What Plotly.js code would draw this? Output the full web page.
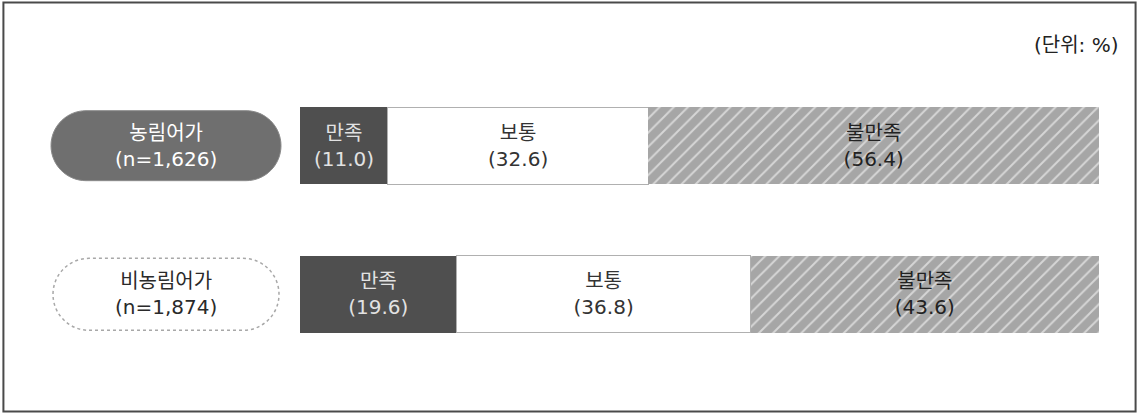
<!DOCTYPE html>
<html>
<head>
<meta charset="utf-8">
<script src="https://cdn.plot.ly/plotly-3.0.1.min.js"></script>
<style>html,body{margin:0;padding:0;background:#fff;}#chart{width:1139px;height:414px;}</style>
</head>
<body>
<div id="chart"></div>
<script>
// ---- data ----
const groups = ["농림어가", "비농림어가"];
const groupN = ["1,626", "1,874"];
const seriesNames = ["만족", "보통", "불만족"];
const satisfied = [11.0, 19.6];
const neutral = [32.6, 36.8];
const dissatisfied = [56.4, 43.6];
const unitLabel = "(단위: %)";

const FONT = "DejaVu Sans, Noto Sans CJK KR, sans-serif";
const values = [satisfied, neutral, dissatisfied];
const fills = ["#4f4f4f", "#ffffff", "#a6a6a6"];
const textColors = ["#e2e2e2", "#333333", "#222222"];
const lineColors = ["#4f4f4f", "#b0b0b0", "#a6a6a6"];

const traces = seriesNames.map((name, i) => ({
  type: "bar",
  orientation: "h",
  name: name,
  y: groups,
  x: values[i],
  width: 0.52,
  text: values[i].map(v => name + "<br>(" + v.toFixed(1) + ")"),
  textposition: "inside",
  insidetextanchor: "middle",
  textangle: 0,
  constraintext: "none",
  textfont: {family: FONT, size: 20, color: textColors[i]},
  marker: Object.assign({
    color: fills[i],
    line: {color: lineColors[i], width: i === 1 ? 1 : 0}
  }, i === 2 ? {pattern: {shape: "/", fgcolor: "#d6d6d6", bgcolor: "#a6a6a6", size: 10, solidity: 0.2}} : {}),
  hoverinfo: "skip"
}));

function pillPath(w, h) {
  const r = h / 2, s = w / 2 - r, k = 0.5523 * r;
  return `M ${-s},${-r} L ${s},${-r} C ${s + k},${-r} ${s + r},${-k} ${s + r},0 ` +
         `C ${s + r},${k} ${s + k},${r} ${s},${r} L ${-s},${r} ` +
         `C ${-s - k},${r} ${-s - r},${k} ${-s - r},0 C ${-s - r},${-k} ${-s - k},${-r} ${-s},${-r} Z`;
}

const pillX = 166 / 1139;
const shapes = [
  {type: "rect", xref: "paper", yref: "paper", x0: 0.003, x1: 0.997, y0: 0.006, y1: 0.994,
   line: {color: "#4a4a4a", width: 2}, fillcolor: "rgba(0,0,0,0)", layer: "above"},
  {type: "path", xref: "paper", yref: "y", xsizemode: "pixel", ysizemode: "pixel",
   xanchor: pillX, yanchor: groups[0], path: pillPath(230, 70),
   fillcolor: "#6f6f6f", line: {color: "#8a8a8a", width: 1}, layer: "below"},
  {type: "path", xref: "paper", yref: "y", xsizemode: "pixel", ysizemode: "pixel",
   xanchor: pillX, yanchor: groups[1], path: pillPath(226, 72),
   fillcolor: "#ffffff", line: {color: "#a8a8a8", width: 1.5, dash: "dot"}, layer: "below"}
];

const annotations = groups.map((g, i) => ({
  xref: "paper", yref: "y", x: pillX, y: g,
  text: g + "<br>(n=" + groupN[i] + ")",
  showarrow: false, xanchor: "center", yanchor: "middle",
  font: {family: FONT, size: 20, color: i === 0 ? "#ffffff" : "#2a2a2a"}
}));
annotations.push({
  xref: "paper", yref: "paper", x: 1121 / 1139, y: 1 - 45 / 414,
  text: unitLabel, showarrow: false, xanchor: "right", yanchor: "middle",
  font: {family: FONT, size: 20, color: "#222222"}
});

const layout = {
  width: 1139, height: 414,
  margin: {l: 0, r: 0, t: 0, b: 0},
  barmode: "stack",
  showlegend: false,
  paper_bgcolor: "#ffffff", plot_bgcolor: "#ffffff",
  xaxis: {domain: [300 / 1139, 1099 / 1139], range: [0, 100], visible: false, fixedrange: true},
  yaxis: {type: "category", categoryorder: "array", categoryarray: groups,
          range: [1.805, -0.98], visible: false, fixedrange: true},
  shapes: shapes,
  annotations: annotations,
  uniformtext: {mode: false}
};

Plotly.newPlot("chart", traces, layout, {displayModeBar: false, staticPlot: true});
</script>
</body>
</html>
